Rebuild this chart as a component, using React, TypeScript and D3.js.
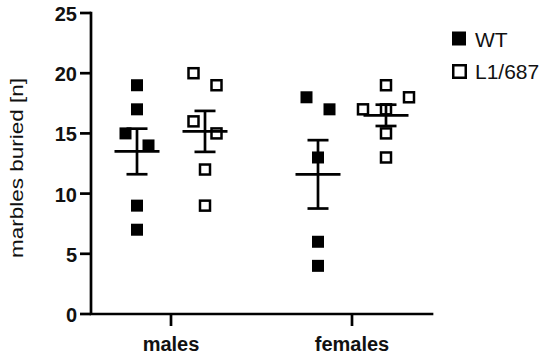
import React from "react";
import * as d3 from "d3";

const categories = ["males", "females"];
const series = ["WT", "L1/687"];

const malesWT = [19, 17, 15, 14, 9, 7];
const malesL1 = [20, 19, 16, 15, 12, 9];
const femalesWT = [18, 17, 13, 6, 4];
const femalesL1 = [19, 18, 17, 17, 15, 13];

const yTicks = [0, 5, 10, 15, 20, 25];

const W = 550;
const H = 359;
const FONT = "'Liberation Sans', Arial, Helvetica, sans-serif";
const SW = 2.7;

const groups = [
  { cat: "males", ser: "WT", values: malesWT },
  { cat: "males", ser: "L1/687", values: malesL1 },
  { cat: "females", ser: "WT", values: femalesWT },
  { cat: "females", ser: "L1/687", values: femalesL1 },
];

const x = d3.scalePoint<string>().domain(categories).range([91, 432]).padding(0.442);
const sub = d3.scalePoint<string>().domain(series).range([-34, 34]);
const y = d3.scaleLinear().domain([0, 25]).range([314, 13]);

// simple scatter-dot spreading (Prism-like): greedy placement, then centre each cluster
function spread(values: number[]): { v: number; py: number; dx: number }[] {
  const h = 11.5;
  const pts = values
    .slice()
    .sort((a, b) => b - a)
    .map((v) => ({ v, py: y(v), dx: 0 }));
  const cand = [0, h, -h, 2 * h, -2 * h, 3 * h, -3 * h];
  const placed: { v: number; py: number; dx: number }[] = [];
  for (const p of pts) {
    for (const c of cand) {
      const hit = placed.some((q) => Math.abs(q.py - p.py) < 13 && Math.abs(q.dx - c) < 20);
      if (!hit) {
        p.dx = c;
        break;
      }
    }
    placed.push(p);
  }
  // clusters
  let start = 0;
  for (let i = 1; i <= placed.length; i++) {
    if (i === placed.length || Math.abs(placed[i].py - placed[i - 1].py) >= 13) {
      const cl = placed.slice(start, i);
      const mn = d3.min(cl, (d) => d.dx) as number;
      const mx = d3.max(cl, (d) => d.dx) as number;
      const shift = (mn + mx) / 2;
      cl.forEach((d) => (d.dx -= shift));
      start = i;
    }
  }
  return placed;
}

export default function App() {
  return (
    <svg
      width={W}
      height={H}
      viewBox={`0 0 ${W} ${H}`}
      style={{ position: "fixed", left: 0, top: 0, background: "#fff" }}
      fontFamily={FONT}
    >
      <rect width={W} height={H} fill="#fff" />
      {/* y axis label */}
      <text
        transform={`translate(23,168) rotate(-90)`}
        textAnchor="middle"
        fontSize={18}
        textLength={180}
        lengthAdjust="spacingAndGlyphs"
        fill="#111"
      >
        marbles buried [n]
      </text>

      {/* axes */}
      <path
        d={`M${91},${y(25)} V${y(0)} H${432}`}
        fill="none"
        stroke="#000"
        strokeWidth={SW}
        strokeLinecap="square"
      />
      {yTicks.map((t) => (
        <g key={t}>
          <line x1={80} x2={91} y1={y(t)} y2={y(t)} stroke="#000" strokeWidth={SW} />
          <text x={77} y={y(t) + 8} textAnchor="end" fontSize={20} fontWeight="bold" fill="#111">
            {t}
          </text>
        </g>
      ))}
      {categories.map((c) => (
        <g key={c}>
          <line x1={x(c)} x2={x(c)} y1={y(0)} y2={y(0) + 12} stroke="#000" strokeWidth={SW} />
          <text x={x(c)} y={351} textAnchor="middle" fontSize={20} fontWeight="bold" fill="#111">
            {c}
          </text>
        </g>
      ))}

      {/* points */}
      {groups.map((g) => {
        const cx = (x(g.cat) as number) + (sub(g.ser) as number);
        const pts = spread(g.values);
        return (
          <g key={g.cat + g.ser}>
            {pts.map((p, i) =>
              g.ser === "WT" ? (
                <rect key={i} x={cx + p.dx - 6} y={p.py - 6} width={12} height={12} fill="#000" />
              ) : (
                <rect
                  key={i}
                  x={cx + p.dx - 5}
                  y={p.py - 5}
                  width={10}
                  height={10}
                  fill="none"
                  stroke="#000"
                  strokeWidth={2.5}
                />
              )
            )}
          </g>
        );
      })}

      {/* mean +/- SEM */}
      {groups.map((g) => {
        const cx = (x(g.cat) as number) + (sub(g.ser) as number);
        const m = d3.mean(g.values) as number;
        const sem = (d3.deviation(g.values) as number) / Math.sqrt(g.values.length);
        return (
          <g key={"m" + g.cat + g.ser} stroke="#000" strokeWidth={SW}>
            <line x1={cx - 22.5} x2={cx + 22.5} y1={y(m)} y2={y(m)} />
            <line x1={cx} x2={cx} y1={y(m + sem)} y2={y(m - sem)} />
            <line x1={cx - 10.5} x2={cx + 10.5} y1={y(m + sem)} y2={y(m + sem)} />
            <line x1={cx - 10.5} x2={cx + 10.5} y1={y(m - sem)} y2={y(m - sem)} />
          </g>
        );
      })}

      {/* legend */}
      <rect x={452} y={31.5} width={14} height={14} fill="#000" />
      <text x={475} y={47} fontSize={21} fill="#111">
        {series[0]}
      </text>
      <rect x={453.25} y={65.25} width={12.5} height={12.5} fill="none" stroke="#000" strokeWidth={2.5} />
      <text x={475} y={79} fontSize={21} fill="#111">
        {series[1]}
      </text>
    </svg>
  );
}
